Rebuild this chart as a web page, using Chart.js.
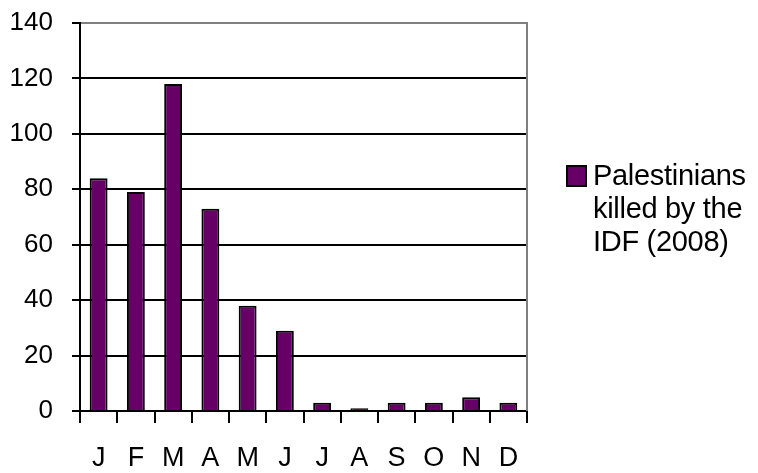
<!DOCTYPE html>
<html>
<head>
<meta charset="utf-8">
<script src="https://cdn.jsdelivr.net/npm/chart.js@4.4.0/dist/chart.umd.min.js"></script>
<style>
  html, body { margin: 0; padding: 0; background: #fff; }
  #wrap { position: relative; width: 758px; height: 473px; }
  #legend { position: absolute; left: 566px; top: 159px; font-family: "Liberation Sans", Arial, sans-serif; font-size: 29px; line-height: 33px; color: #000; }
  #legend .box { position: absolute; left: 0; top: 6px; width: 17px; height: 18px; background: #660066; border: 2px solid #000; }
  #legend .txt { margin-left: 27px; white-space: nowrap; letter-spacing: -0.3px; }
</style>
</head>
<body>
<div id="wrap">
  <canvas id="c" width="758" height="473"></canvas>
  <div id="legend"><div class="box"></div><div class="txt">Palestinians<br>killed by the<br>IDF (2008)</div></div>
</div>
<script>
const categories = ["J", "F", "M", "A", "M", "J", "J", "A", "S", "O", "N", "D"];
const seriesName = "Palestinians killed by the IDF (2008)";
const killed = [84, 79, 118, 73, 38, 29, 3, 1, 3, 3, 5, 3];
const yTicks = [0, 20, 40, 60, 80, 100, 120, 140];

const rightBorder = {
  id: 'rightBorder',
  afterDraw(chart) {
    const a = chart.chartArea, ctx = chart.ctx;
    ctx.save();
    ctx.strokeStyle = '#808080';
    ctx.lineWidth = 2;
    ctx.beginPath();
    ctx.moveTo(a.right, a.top - 1);
    ctx.lineTo(a.right, a.bottom);
    ctx.stroke();
    ctx.restore();
  }
};

new Chart(document.getElementById('c'), {
  type: 'bar',
  data: {
    labels: categories,
    datasets: [{
      label: seriesName,
      data: killed,
      backgroundColor: '#660066',
      borderColor: '#000000',
      borderWidth: 2,
      categoryPercentage: 1.0,
      barPercentage: 0.48
    }]
  },
  plugins: [rightBorder],
  options: {
    responsive: false,
    animation: false,
    layout: { padding: { top: 23, right: 231, left: 0, bottom: 0 } },
    plugins: { legend: { display: false }, tooltip: { enabled: false } },
    scales: {
      x: {
        grid: { drawOnChartArea: false, drawTicks: true, tickLength: 12, color: '#000', lineWidth: 2, offset: true },
        border: { display: true, color: '#000', width: 2 },
        ticks: { color: '#000', font: { family: 'Liberation Sans', size: 27 }, padding: 19, maxRotation: 0 },
        afterFit(s) { s.height = 62; s.paddingLeft = 0; s.paddingRight = 0; }
      },
      y: {
        min: 0, max: 140,
        afterBuildTicks(s) { s.ticks = yTicks.map(v => ({ value: v })); },
        grid: {
          color: ctx => (ctx.tick && ctx.tick.value === 140) ? '#808080' : '#000',
          tickColor: '#000',
          lineWidth: 2,
          tickLength: 8
        },
        border: { display: true, color: '#000', width: 2 },
        ticks: { color: '#000', font: { family: 'Liberation Sans', size: 26 }, padding: 19 },
        afterFit(s) { s.width = 80; s.paddingTop = 0; s.paddingBottom = 0; }
      }
    }
  }
});
</script>
</body>
</html>
